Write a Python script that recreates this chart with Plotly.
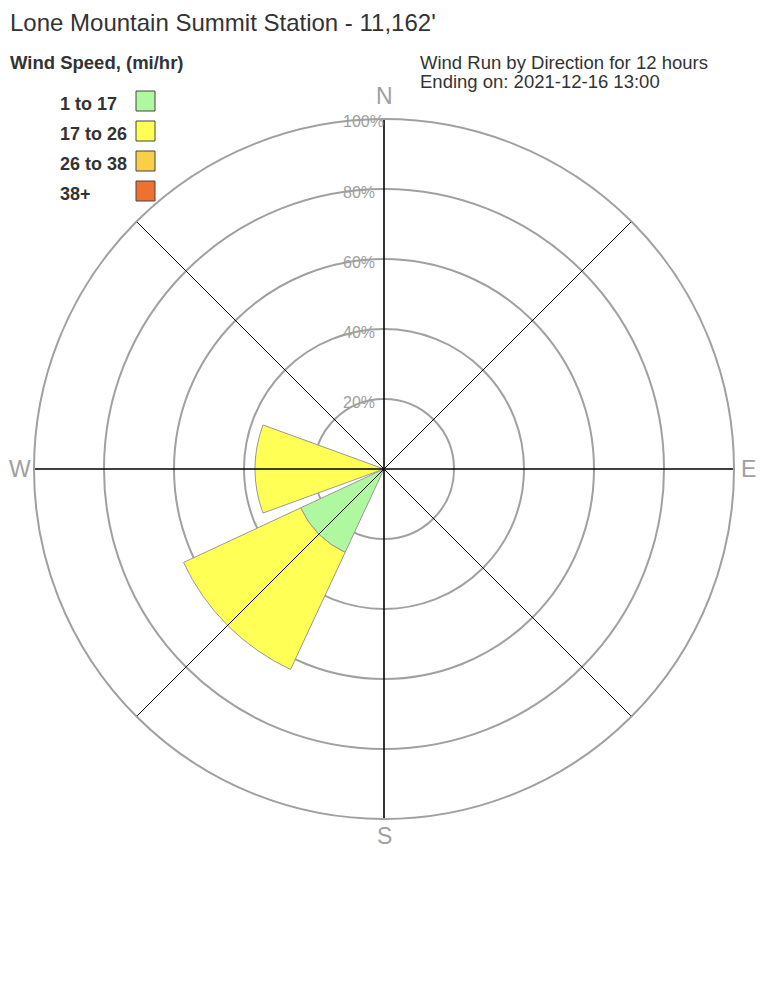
import plotly.graph_objects as go
import math

# ---- data ----
directions = ["N", "NE", "E", "SE", "S", "SW", "W", "NW"]
dir_angles = [0, 45, 90, 135, 180, 225, 270, 315]
speed_bins = ["1 to 17", "17 to 26", "26 to 38", "38+"]
bin_colors = ["#b0f8a0", "#ffff55", "#f8d048", "#f07030"]
pct_1_17 = [0, 0, 0, 0, 0, 26.3, 0, 0]
pct_17_26 = [0, 0, 0, 0, 0, 36.9, 36.8, 0]
pct_26_38 = [0, 0, 0, 0, 0, 0, 0, 0]
pct_38p = [0, 0, 0, 0, 0, 0, 0, 0]
series = [pct_1_17, pct_17_26, pct_26_38, pct_38p]
ring_vals = [20, 40, 60, 80, 100]
ring_text = ["20%", "40%", "60%", "80%", "100%"]
cardinal_vals = [0, 90, 180, 270]
cardinal_text = ["N", "E", "S", "W"]

title_text = "Lone Mountain Summit Station - 11,162'"
legend_title = "Wind Speed, (mi/hr)"
sub1 = "Wind Run by Direction for 12 hours"
sub2 = "Ending on: 2021-12-16 13:00"

OFF = 8  # browser default body margin
W, H = 768 - 2 * OFF, 1008 - 2 * OFF
FONT = "Liberation Sans, Arial, sans-serif"
GRAY = "#a0a0a0"
TXT = "#333333"

fig = go.Figure()

for name, vals, col in zip(speed_bins, series, bin_colors):
    fig.add_trace(go.Barpolar(
        r=vals, theta=dir_angles, width=[40] * len(dir_angles), name=name,
        marker=dict(color=col, line=dict(color="#999999", width=1)),
        showlegend=False, hoverinfo="skip",
    ))

# spokes
for a in dir_angles:
    main = a % 90 == 0
    fig.add_trace(go.Scatterpolar(
        r=[0, 100], theta=[a, a], mode="lines",
        line=dict(color="black", width=1.6 if main else 1),
        showlegend=False, hoverinfo="skip",
    ))

def px_x(px):
    return (px - OFF) / W

def px_y(px):
    return 1 - (px - OFF) / H

cx, cy, R = 384, 469, 350
fig.update_layout(
    width=W, height=H,
    margin=dict(l=0, r=0, t=0, b=0),
    paper_bgcolor="white",
    font=dict(family=FONT, color=TXT),
    polar=dict(
        domain=dict(x=[px_x(cx - R), px_x(cx + R)], y=[px_y(cy + R), px_y(cy - R)]),
        bgcolor="white",
        barmode="stack",
        radialaxis=dict(
            range=[0, 100], tickvals=ring_vals,
            showgrid=True, gridcolor=GRAY, gridwidth=2,
            showline=False, ticks="", showticklabels=False, angle=90,
        ),
        angularaxis=dict(
            rotation=90, direction="clockwise",
            tickvals=cardinal_vals, showticklabels=False,
            showgrid=False, ticks="", showline=True,
            linecolor=GRAY, linewidth=2,
        ),
    ),
)

ann = [
    dict(text=title_text, x=px_x(8), y=px_y(22.5), font=dict(size=24, color=TXT)),
    dict(text="<b>" + legend_title + "</b>", x=px_x(8), y=px_y(63), font=dict(size=18.5, color=TXT)),
    dict(text=sub1, x=px_x(418), y=px_y(63), font=dict(size=18.5, color=TXT)),
    dict(text=sub2, x=px_x(418), y=px_y(82), font=dict(size=18.5, color=TXT)),
]
# ring labels along the north axis
for v, t in zip(ring_vals, ring_text):
    ann.append(dict(text=t, x=px_x(341), y=px_y(cy - R * v / 100 + 3),
                    font=dict(size=16, color=GRAY), xanchor="left"))
# compass labels just outside the outer ring
label_gap = {"N": 23, "E": 14, "S": 17, "W": 14}
for ang, t in zip(cardinal_vals, cardinal_text):
    rr = R + label_gap[t]
    x = cx + rr * math.sin(math.radians(ang))
    y = cy - rr * math.cos(math.radians(ang))
    ann.append(dict(text=t, x=px_x(x), y=px_y(y), font=dict(size=23, color=GRAY),
                    xanchor="center"))
shapes = []
for i, (name, col) in enumerate(zip(speed_bins, bin_colors)):
    yc = 101 + 30 * i
    ann.append(dict(text="<b>" + name + "</b>", x=px_x(58), y=px_y(yc + 3), font=dict(size=18, color=TXT)))
    shapes.append(dict(type="rect", xref="paper", yref="paper",
                       x0=px_x(136), x1=px_x(155), y0=px_y(yc - 10), y1=px_y(yc + 10),
                       fillcolor=col, line=dict(color="#444444", width=1)))
for a in ann:
    a.setdefault("xanchor", "left")
    a.update(xref="paper", yref="paper", yanchor="middle", showarrow=False)
fig.update_layout(annotations=ann, shapes=shapes)

fig.write_html("out.html")
